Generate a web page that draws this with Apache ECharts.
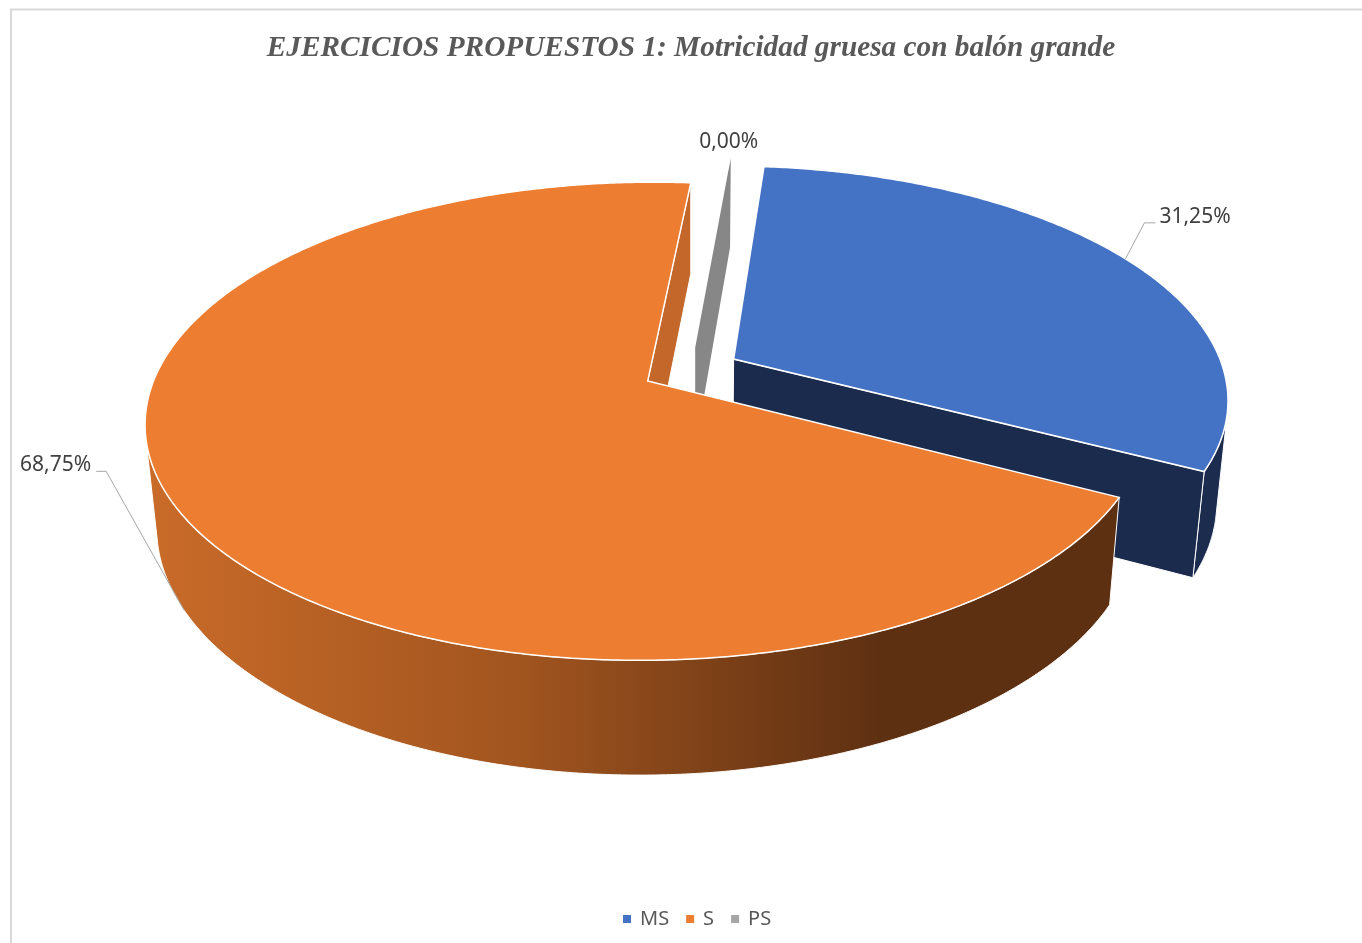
<!DOCTYPE html>
<html>
<head>
<meta charset="utf-8">
<script src="https://cdn.jsdelivr.net/npm/echarts@6/dist/echarts.min.js"></script>
<style>
  html, body { margin: 0; padding: 0; background: #ffffff; }
  #chart { width: 1362px; height: 943px; }
</style>
</head>
<body>
<div id="chart"></div>
<script>
// Categories and their shares (percent)
const categories = ['MS', 'S', 'PS'];
const values = [31.25, 68.75, 0];

// Colours per category: top face, radial cut face, outer wall
const topColors = ['#4472C4', '#ED7D31', '#A5A5A5'];
const cutColors = ['#1B2B4E', '#C4672A', '#878787'];
const wallColors = [
  '#1B2C4F',
  { type: 'linear', x: 150, y: 0, x2: 880, y2: 0, global: true,
    colorStops: [
      { offset: 0, color: '#C96B29' },
      { offset: 0.5, color: '#A2551F' },
      { offset: 1, color: '#5E3012' }
    ] },
  '#8A8A8A'
];

// Leader-line layout for each label (elbow offset from anchor, horizontal run)
const labelLayout = {
  MS: { elbow: [19, -36], run: 11 },
  S:  { elbow: [-78, -139], run: -10 },
  PS: null
};

// Camera and disc parameters of the 3D pie
const view = {
  cx: 691, cy: 370, f: 2603, dist: 5.31, tilt: 27.8,
  height: 0.238, explode: 0.1, rotation: 5
};
const DEG = Math.PI / 180;
const sa = Math.sin(view.tilt * DEG);
const ca = Math.cos(view.tilt * DEG);
const camZ = view.dist * ca;
const total = values.reduce((a, b) => a + b, 0);

function project(X, Y, Z) {
  const depth = view.dist - (Y * sa + Z * ca);
  return [view.cx + view.f * X / depth, view.cy - view.f * (Y * ca - Z * sa) / depth];
}

function startAngle(i) {
  let a = view.rotation;
  for (let k = 0; k < i; k++) a += values[k] / total * 360;
  return a;
}

function pctText(v) {
  return v.toFixed(2).replace('.', ',') + '%';
}

function renderSlice(i) {
  return function (params, api) {
    const v = api.value(0);
    const a1 = startAngle(i);
    const a2 = a1 + v / total * 360;
    const am = (a1 + a2) / 2;
    const ex = view.explode * Math.sin(am * DEG);
    const ez = -view.explode * Math.cos(am * DEG);
    const H = -view.height;
    const rim = (a, Y) => project(Math.sin(a * DEG) + ex, Y, -Math.cos(a * DEG) + ez);
    const apex = (Y) => project(ex, Y, ez);
    const children = [];

    // outer wall: only the stretches facing the camera
    if (a2 > a1) {
      const step = 0.25;
      const runs = [];
      let cur = null;
      for (let a = a1; a <= a2 + 1e-9; a += step) {
        const aa = Math.min(a, a2);
        const s = Math.sin(aa * DEG), c = Math.cos(aa * DEG);
        const px = s + ex, pz = -c + ez;
        const facing = (-px) * s + (camZ - pz) * (-c);
        if (facing > 0) {
          if (!cur) { cur = []; runs.push(cur); }
          cur.push(aa);
        } else {
          cur = null;
        }
      }
      runs.forEach(run => {
        const pts = run.map(a => rim(a, 0));
        for (let k = run.length - 1; k >= 0; k--) pts.push(rim(run[k], H));
        children.push({
          type: 'polygon', shape: { points: pts },
          style: { fill: wallColors[i], stroke: '#ffffff', lineWidth: 1 }
        });
      });
    }

    // radial cut faces (start and end of the slice)
    [[a1, -1], [a2, 1]].forEach(([a, sgn]) => {
      const nx = sgn * Math.cos(a * DEG), nz = sgn * Math.sin(a * DEG);
      const facing = (0 - ex) * nx + (camZ - ez) * nz;
      if (facing <= 0) return;
      children.push({
        type: 'polygon',
        shape: { points: [apex(0), rim(a, 0), rim(a, H), apex(H)] },
        style: { fill: cutColors[i], stroke: v > 0 ? '#ffffff' : null, lineWidth: 1 }
      });
    });

    // top face
    if (a2 > a1) {
      const pts = [apex(0)];
      for (let a = a1; a <= a2 + 1e-9; a += 0.5) pts.push(rim(Math.min(a, a2), 0));
      pts.push(rim(a2, 0));
      children.push({
        type: 'polygon', shape: { points: pts },
        style: { fill: topColors[i], stroke: '#ffffff', lineWidth: 1.5 }
      });
    }

    // data label
    const text = pctText(v);
    const layout = labelLayout[categories[i]];
    const midZ = -Math.cos(am * DEG) + ez;
    const textStyle = { fill: '#404040', fontSize: 21, fontFamily: 'Noto Sans' };
    if (layout) {
      const anchor = rim(am, midZ > 0 ? H : 0);
      const elbow = [anchor[0] + layout.elbow[0], anchor[1] + layout.elbow[1]];
      const end = [elbow[0] + layout.run, elbow[1]];
      children.push({
        type: 'polyline', shape: { points: [anchor, elbow, end] },
        style: { stroke: '#A6A6A6', lineWidth: 1, fill: null }
      });
      const right = layout.run > 0;
      children.push({
        type: 'text',
        style: Object.assign({
          text: text,
          x: end[0] + (right ? 4 : -5),
          y: elbow[1] - 6,
          align: right ? 'left' : 'right',
          verticalAlign: 'middle'
        }, textStyle)
      });
    } else {
      const top = rim(am, 0);
      children.push({
        type: 'text',
        style: Object.assign({
          text: text, x: top[0] - 2, y: top[1] - 6,
          align: 'center', verticalAlign: 'bottom'
        }, textStyle)
      });
    }
    return { type: 'group', children: children };
  };
}

// paint back slices first
const drawOrder = [2, 0, 1];
const series = drawOrder.map((i, k) => ({
  type: 'custom',
  name: categories[i],
  coordinateSystem: 'none',
  z: 2 + k,
  silent: true,
  itemStyle: { color: topColors[i] },
  data: [[values[i]]],
  renderItem: renderSlice(i)
}));

const chart = echarts.init(document.getElementById('chart'), null, { renderer: 'canvas' });
chart.setOption({
  animation: false,
  backgroundColor: '#ffffff',
  title: {
    text: 'EJERCICIOS PROPUESTOS 1: Motricidad gruesa con balón grande',
    left: 686,
    top: 29,
    textAlign: 'center',
    textStyle: {
      fontFamily: 'Liberation Serif',
      fontStyle: 'italic',
      fontWeight: 'bold',
      fontSize: 29.3,
      color: '#595959'
    }
  },
  legend: {
    data: categories,
    left: 618,
    top: 904,
    icon: 'rect',
    itemWidth: 8,
    itemHeight: 8,
    itemGap: 17,
    textStyle: { color: '#595959', fontSize: 20, fontFamily: 'Noto Sans', padding: [0, 0, 0, 4] }
  },
  graphic: [{
    type: 'rect',
    shape: { x: 11, y: 9.5, width: 1400, height: 1000 },
    style: { fill: null, stroke: '#D9D9D9', lineWidth: 2 },
    silent: true,
    z: 0
  }],
  series: series
});
</script>
</body>
</html>
